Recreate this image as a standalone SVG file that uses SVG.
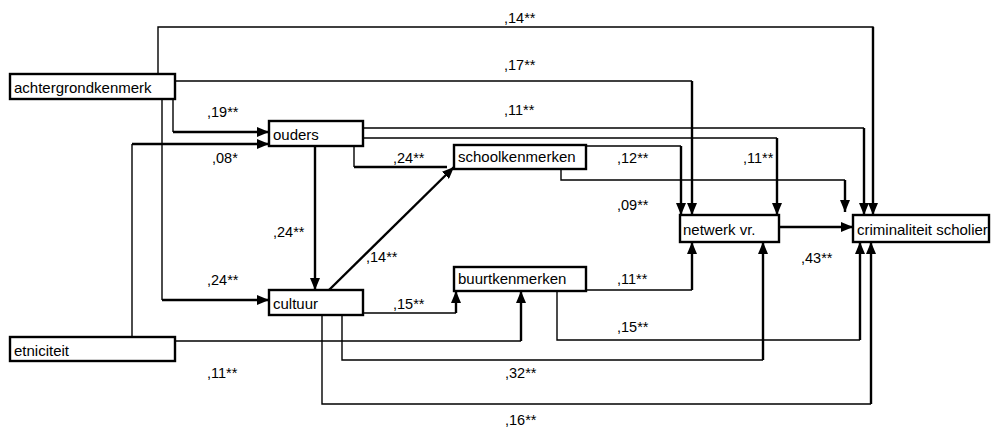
<svg xmlns="http://www.w3.org/2000/svg" width="991" height="428" viewBox="0 0 991 428">
<style>
.box{fill:#fff;stroke:#000;stroke-width:2.4}
.nt{font-family:"Liberation Sans",Arial,sans-serif;font-size:15px;fill:#000}
.lb{font-family:"Liberation Sans",Arial,sans-serif;font-size:14.5px;fill:#000}
.thin{fill:none;stroke:#000;stroke-width:1.4}
.thick{fill:none;stroke:#000;stroke-width:2.4;marker-end:url(#ah)}
.thickn{fill:none;stroke:#000;stroke-width:2.4}
</style>
<defs>
<marker id="ah" markerUnits="userSpaceOnUse" markerWidth="12" markerHeight="10" refX="12" refY="5" orient="auto">
<path d="M0,0 L12,5 L0,10 Z" fill="#000"/>
</marker>
</defs>
<rect width="991" height="428" fill="#fff"/>
<g id="connectors">
<path class="thin" d="M158,74 V27 H873 V40"/>
<path class="thick" d="M873,27 V215"/>
<path class="thin" d="M175,81 H692"/>
<path class="thick" d="M692,81 V215"/>
<path class="thin" d="M173,99 V132"/>
<path class="thick" d="M173,132 H269"/>
<path class="thin" d="M132,337 V144"/>
<path class="thick" d="M132,144 H269"/>
<path class="thin" d="M162,99 V300"/>
<path class="thick" d="M162,300 H269"/>
<path class="thin" d="M363,128 H864"/>
<path class="thick" d="M864,128 V215"/>
<path class="thin" d="M363,138 H777"/>
<path class="thick" d="M777,138 V215"/>
<path class="thin" d="M354,146 V167"/>
<path class="thickn" d="M354,167 H447"/>
<path class="thick" d="M315,146 V290"/>
<path class="thick" d="M329,290 L454,167"/>
<path class="thin" d="M586,146 H681"/>
<path class="thick" d="M681,146 V215"/>
<path class="thin" d="M561,169 V180 H845"/>
<path class="thick" d="M845,180 V212"/>
<path class="thick" d="M779,227 H853"/>
<path class="thin" d="M586,290 H692"/>
<path class="thick" d="M692,290 V242"/>
<path class="thin" d="M557,291 V340 H860"/>
<path class="thick" d="M860,340 V242"/>
<path class="thin" d="M363,313 H456"/>
<path class="thick" d="M456,313 V291"/>
<path class="thin" d="M175,341 H521"/>
<path class="thick" d="M521,341 V291"/>
<path class="thin" d="M342,315 V360 H763"/>
<path class="thick" d="M763,360 V242"/>
<path class="thin" d="M322,315 V404 H871"/>
<path class="thick" d="M871,404 V242"/>
</g>
<g id="labels">
<text class="lb" x="504" y="23">,14**</text>
<text class="lb" x="504" y="70">,17**</text>
<text class="lb" x="504" y="115">,11**</text>
<text class="lb" x="207" y="117">,19**</text>
<text class="lb" x="212" y="163">,08*</text>
<text class="lb" x="393" y="163">,24**</text>
<text class="lb" x="617" y="163">,12**</text>
<text class="lb" x="743" y="163">,11**</text>
<text class="lb" x="617" y="210">,09**</text>
<text class="lb" x="273" y="237">,24**</text>
<text class="lb" x="366" y="262">,14**</text>
<text class="lb" x="801" y="263">,43**</text>
<text class="lb" x="207" y="285">,24**</text>
<text class="lb" x="617" y="284">,11**</text>
<text class="lb" x="393" y="309">,15**</text>
<text class="lb" x="617" y="332">,15**</text>
<text class="lb" x="207" y="378">,11**</text>
<text class="lb" x="505" y="378">,32**</text>
<text class="lb" x="505" y="425">,16**</text>
</g>
<g id="achtergrondkenmerk"><rect class="box" x="10" y="74" width="165" height="25"/><text class="nt" x="14" y="93">achtergrondkenmerk</text></g>
<g id="ouders"><rect class="box" x="269" y="121" width="94" height="25"/><text class="nt" x="273" y="140">ouders</text></g>
<g id="schoolkenmerken"><rect class="box" x="454" y="145" width="132" height="24"/><text class="nt" x="458" y="162">schoolkenmerken</text></g>
<g id="netwerk"><rect class="box" x="680" y="215" width="99" height="27"/><text class="nt" x="683" y="235">netwerk vr.</text></g>
<g id="criminaliteit"><rect class="box" x="853" y="215" width="136" height="27"/><text class="nt" x="857" y="235">criminaliteit scholier</text></g>
<g id="cultuur"><rect class="box" x="269" y="290" width="94" height="25"/><text class="nt" x="273" y="309">cultuur</text></g>
<g id="buurtkenmerken"><rect class="box" x="454" y="267" width="132" height="24"/><text class="nt" x="458" y="284">buurtkenmerken</text></g>
<g id="etniciteit"><rect class="box" x="10" y="337" width="165" height="24"/><text class="nt" x="14" y="356">etniciteit</text></g>
</svg>
